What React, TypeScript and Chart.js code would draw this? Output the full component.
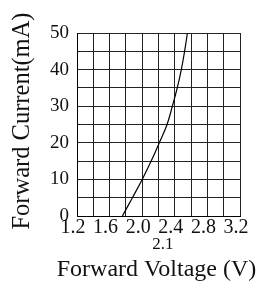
import React, { useEffect, useRef } from 'react';
import { Chart, registerables } from 'chart.js';

Chart.register(...registerables);

// Forward voltage (V) vs forward current (mA)
const voltage = [1.757, 1.88, 2.0, 2.11, 2.21, 2.305, 2.37, 2.43, 2.48, 2.52, 2.555];
const current = [0, 5, 10, 15, 20, 25, 30, 35, 40, 45, 50];

const xGridValues = [1.2, 1.4, 1.6, 1.8, 2.0, 2.2, 2.4, 2.6, 2.8, 3.0, 3.2];
const xTickLabels = ['1.2', '', '1.6', '', '2.0', '', '2.4', '', '2.8', '', '3.2'];
const yGridValues = [0, 5, 10, 15, 20, 25, 30, 35, 40, 45, 50];
const yTickLabels = ['0', '', '10', '', '20', '', '30', '', '40', '', '50'];

const typicalVoltage = 2.1;
const typicalLabel = '2.1';
const xTitle = 'Forward Voltage (V)';
const yTitle = 'Forward Current(mA)';

const FONT = '"Liberation Serif", serif';

const textPlugin = {
  id: 'textExtras',
  afterDraw(chart: any) {
    const ctx = chart.ctx;
    const xs = chart.scales.x;
    const area = chart.chartArea;
    ctx.save();
    ctx.fillStyle = '#111';

    // typical forward voltage note
    ctx.font = `17px ${FONT}`;
    ctx.textAlign = 'left';
    ctx.textBaseline = 'middle';
    ctx.fillText(typicalLabel, xs.getPixelForValue(typicalVoltage) + 2, area.bottom + 28.5);

    // x axis title
    ctx.font = `24px ${FONT}`;
    ctx.textAlign = 'center';
    ctx.textBaseline = 'alphabetic';
    ctx.fillText(xTitle, (area.left + area.right) / 2 - 2, area.bottom + 60);

    // y axis title
    ctx.font = `24.5px ${FONT}`;
    ctx.translate(area.left - 48.5, (area.top + area.bottom) / 2 - 3.5);
    ctx.rotate(-Math.PI / 2);
    ctx.fillText(yTitle, 0, 0);
    ctx.restore();
  },
};

export default function App() {
  const ref = useRef<HTMLCanvasElement | null>(null);

  useEffect(() => {
    if (!ref.current) return;
    const chart = new Chart(ref.current, {
      type: 'line',
      data: {
        datasets: [
          {
            data: voltage.map((v, i) => ({ x: v, y: current[i] })),
            borderColor: '#000',
            borderWidth: 1.2,
            pointRadius: 0,
            tension: 0.4,
            fill: false,
          },
        ],
      },
      options: {
        animation: false,
        responsive: false,
        events: [],
        layout: { padding: { top: 33, right: 28, left: 0, bottom: 0 } },
        plugins: { legend: { display: false }, tooltip: { enabled: false } },
        scales: {
          x: {
            type: 'linear',
            min: 1.2,
            max: 3.2,
            afterBuildTicks: (s: any) => {
              s.ticks = xGridValues.map((v) => ({ value: v }));
            },
            afterFit: (s: any) => {
              s.height = 284 - 216;
            },
            grid: { color: '#222', lineWidth: 1, drawTicks: false },
            border: { color: '#000', width: 1 },
            ticks: {
              autoSkip: false,
              maxRotation: 0,
              padding: 0,
              labelOffset: -4,
              color: '#111',
              font: { family: FONT, size: 20 },
              callback: (_v: any, i: number) => xTickLabels[i],
            },
            title: { display: false },
          },
          y: {
            type: 'linear',
            min: 0,
            max: 50,
            afterBuildTicks: (s: any) => {
              s.ticks = yGridValues.map((v) => ({ value: v }));
            },
            afterFit: (s: any) => {
              s.width = 77;
            },
            grid: { color: '#222', lineWidth: 1, drawTicks: false },
            border: { color: '#000', width: 1 },
            ticks: {
              autoSkip: false,
              padding: 8,
              color: '#111',
              font: { family: FONT, size: 19 },
              callback: (_v: any, i: number) => yTickLabels[i],
            },
            title: { display: false },
          },
        },
      },
      plugins: [textPlugin],
    });
    return () => chart.destroy();
  }, []);

  return (
    <div style={{ position: 'fixed', left: 0, top: 0, width: 268, height: 284, background: '#fff' }}>
      <canvas ref={ref} width={268} height={284} style={{ width: 268, height: 284, display: 'block' }} />
    </div>
  );
}
